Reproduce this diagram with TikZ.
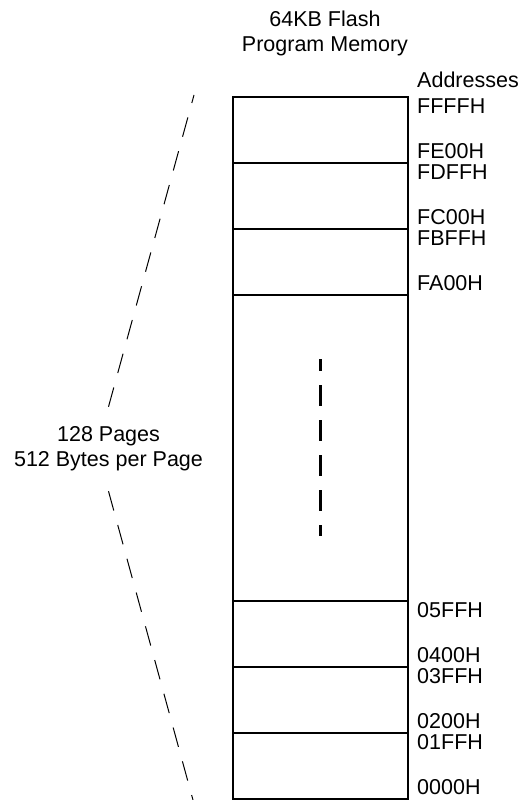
\documentclass[tikz,border=0pt]{standalone}
\usepackage{fontspec}
\setmainfont{Liberation Sans}
\usetikzlibrary{positioning}

\begin{document}
\begin{tikzpicture}[
  x=1pt, y=-1pt,
  every node/.style={font=\fontsize{21.5}{25}\selectfont},
  page/.style={draw, line width=2.3pt, minimum width=175pt, minimum height=66pt, inner sep=0pt, outer sep=0pt},
  addr/.style={inner sep=0pt, anchor=base west, xshift=9pt},
  hiaddr/.style={addr, yshift=-16pt},
  loaddr/.style={addr, yshift=5pt},
  brace/.style={line width=1pt, dash pattern=on 20pt off 15pt},
  gap/.style={line width=2.3pt, dash pattern=on 21pt off 14pt, dash phase=9pt}
]
  \useasboundingbox (0,0) rectangle (523,800);

  \node[page] (pFF) at (320.5,130) {};
  \node[page, below=0pt of pFF] (pFD) {};
  \node[page, below=0pt of pFD] (pFB) {};
  \node[page, minimum height=306pt, below=0pt of pFB] (pmid) {};
  \node[page, below=0pt of pmid] (p05) {};
  \node[page, below=0pt of p05] (p03) {};
  \node[page, below=0pt of p03] (p01) {};

  \node[align=center, anchor=base] (title) at (325,52) {64KB Flash\\Program Memory};
  \node[addr, yshift=10pt] (addrs) at (pFF.north east) {Addresses};

  \node[hiaddr] (aFFFF) at (pFF.north east) {FFFFH};
  \node[loaddr] (aFE00) at (pFF.south east) {FE00H};
  \node[hiaddr] (aFDFF) at (pFD.north east) {FDFFH};
  \node[loaddr] (aFC00) at (pFD.south east) {FC00H};
  \node[hiaddr] (aFBFF) at (pFB.north east) {FBFFH};
  \node[loaddr] (aFA00) at (pFB.south east) {FA00H};
  \node[hiaddr] (a05FF) at (p05.north east) {05FFH};
  \node[loaddr] (a0400) at (p05.south east) {0400H};
  \node[hiaddr] (a03FF) at (p03.north east) {03FFH};
  \node[loaddr] (a0200) at (p03.south east) {0200H};
  \node[hiaddr] (a01FF) at (p01.north east) {01FFH};
  \node[loaddr] (a0000) at (p01.south east) {0000H};

  \draw[gap] ([yshift=89pt]pmid.center) -- ([yshift=-88pt]pmid.center);

  \node[align=center, inner sep=0pt, outer ysep=20pt] (pages) at (108.5,449) {128 Pages\\512 Bytes per Page};
  \coordinate (topend) at ([xshift=-39pt, yshift=2pt]pFF.north west);
  \coordinate (botend) at ([xshift=-40pt, yshift=-1pt]p01.south west);
  \draw[brace] (pages.north) -- (topend);
  \draw[brace] (pages.south) -- (botend);
\end{tikzpicture}
\end{document}
